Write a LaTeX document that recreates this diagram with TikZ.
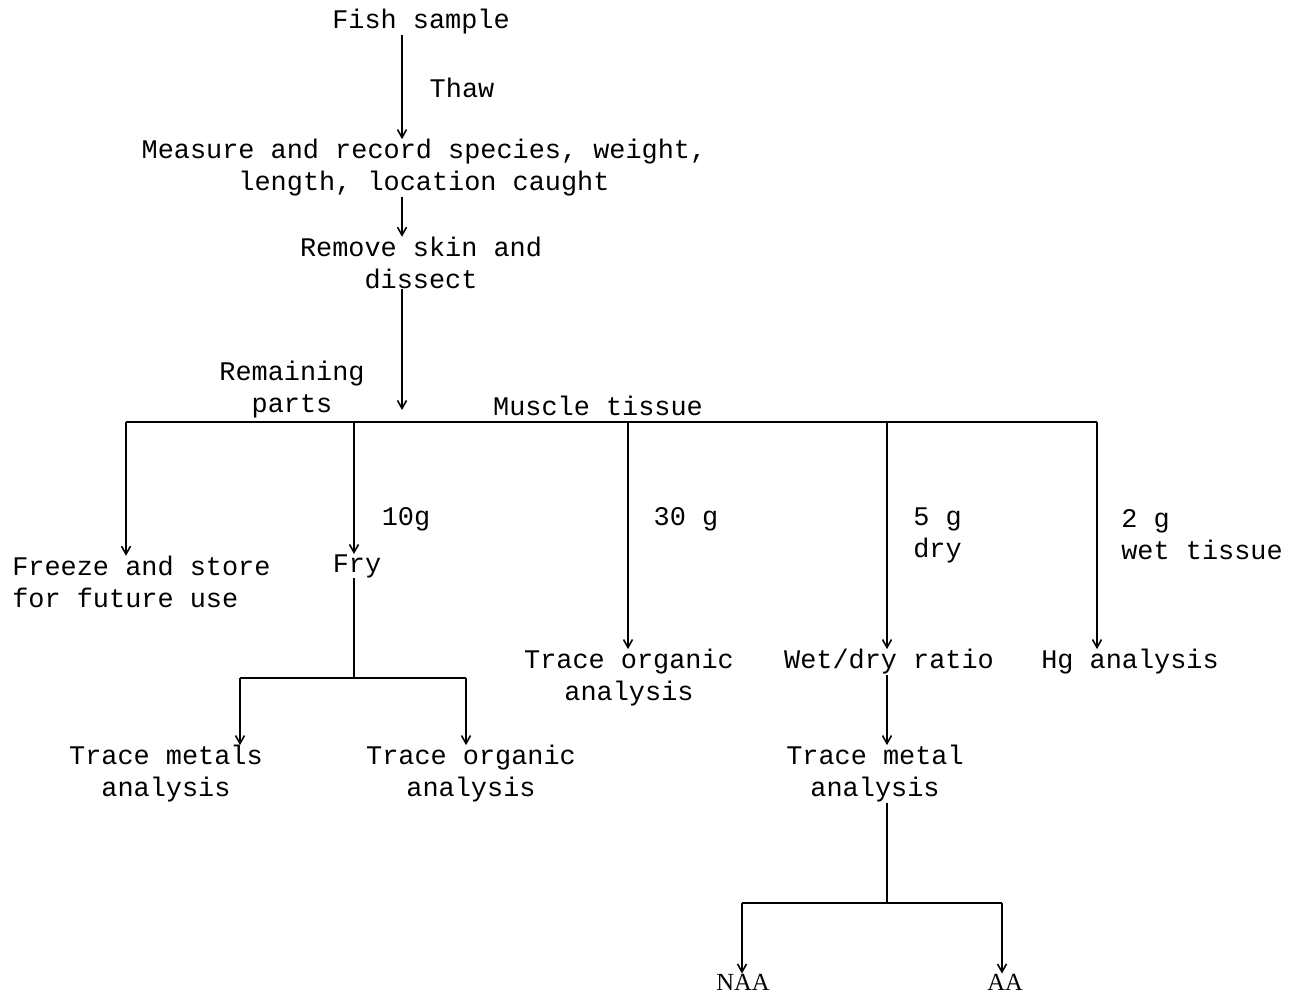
\documentclass[tikz,border=0pt]{standalone}
\usepackage{fontspec}
\setmonofont{Liberation Mono}
\newfontfamily\labfont{Liberation Serif}
\usetikzlibrary{arrows.meta}

\begin{document}
\begin{tikzpicture}[
    x=0.02cm, y=-0.02cm,
    every node/.style={font=\ttfamily\fontsize{15.3pt}{18.2pt}\selectfont, inner sep=0pt},
    stepbox/.style={align=center},
    steplft/.style={align=left, anchor=west},
    method/.style={font=\labfont\fontsize{14pt}{16pt}\selectfont},
    line/.style={line width=0.9pt},
    arrow/.style={-{Straight Barb[length=1.6mm, width=1.8mm]}, line width=0.9pt}
]
\useasboundingbox (0,0) rectangle (1291,994);

% main spine
\coordinate (spine) at (402,0);
\node[stepbox] (fish) at (421,22) {Fish sample};
\node (thaw) at (462,88) {Thaw};
\node[stepbox] (measure) at (424,168) {Measure and record species, weight,\\length, location caught};
\node[stepbox] (remove) at (421,263) {Remove skin and\\dissect};
\node[stepbox] (remain) at (292,390) {Remaining\\parts};
\node (muscle) at (598,406) {Muscle tissue};

\draw[arrow] (fish.south -| spine) -- (measure.north -| spine);
\draw[arrow] (measure.south -| spine) -- (remove.north -| spine);
\draw[arrow, shorten >=0.24cm] (remove.south -| spine) -- (spine |- 0,422);

% split of the fish
\coordinate (bar1) at (126,422);
\coordinate (bar2) at (354,422);
\coordinate (bar3) at (628,422);
\coordinate (bar4) at (887,422);
\coordinate (bar5) at (1097,422);
\draw[line] (bar1) -- (bar5);

\node[steplft] (freeze) at (12,582) {Freeze and store\\for future use};
\node (fry) at (357,566) {Fry};
\node[stepbox] (organicA) at (629,678) {Trace organic\\analysis};
\node (wetdry) at (889,662) {Wet/dry ratio};
\node (hg) at (1130,662) {Hg analysis};

\node (tenG) at (406,519) {10g};
\node (thirtyG) at (686,519) {30 g};
\node[steplft] (fiveG) at (913,535) {5 g\\dry};
\node[steplft] (twoG) at (1121,535) {2 g\\wet tissue};

\draw[arrow] (bar1) -- (freeze.north -| bar1);
\draw[arrow] (bar2) -- (fry.north -| bar2);
\draw[arrow] (bar3) -- (organicA.north -| bar3);
\draw[arrow] (bar4) -- (wetdry.north -| bar4);
\draw[arrow] (bar5) -- (hg.north -| bar5);

% fried portion
\coordinate (fryJ) at (354,678);
\coordinate (fryL) at (240,678);
\coordinate (fryR) at (466,678);
\node[stepbox] (metalsA) at (166,774) {Trace metals\\analysis};
\node[stepbox] (organicB) at (471,774) {Trace organic\\analysis};
\draw[line] (fry.south -| fryJ) -- (fryJ);
\draw[line] (fryL) -- (fryR);
\draw[arrow] (fryL) -- (metalsA.north -| fryL);
\draw[arrow] (fryR) -- (organicB.north -| fryR);

% dry portion
\node[stepbox] (metalB) at (875,774) {Trace metal\\analysis};
\draw[arrow] (wetdry.south -| bar4) -- (metalB.north -| bar4);

\coordinate (aaJ) at (887,903);
\coordinate (aaL) at (742,903);
\coordinate (aaR) at (1002,903);
\node[method] (naa) at (743,982) {NAA};
\node[method] (aa) at (1005,982) {AA};
\draw[line] (metalB.south -| aaJ) -- (aaJ);
\draw[line] (aaL) -- (aaR);
\draw[arrow] (aaL) -- (naa.north -| aaL);
\draw[arrow] (aaR) -- (aa.north -| aaR);
\end{tikzpicture}
\end{document}
